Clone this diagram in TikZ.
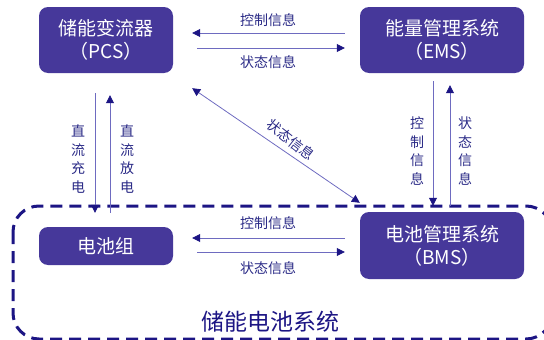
\documentclass[tikz,border=0pt]{standalone}
\usepackage{fontspec}
\setmainfont{Noto Sans CJK SC}
\usetikzlibrary{arrows.meta,calc}
\definecolor{boxfill}{HTML}{46389A}
\definecolor{navy}{HTML}{1C1584}
\definecolor{lineblue}{HTML}{6E6BC0}
\definecolor{txtblue}{HTML}{2A2A86}
\tikzset{
  box/.style={draw=none, fill=boxfill, rounded corners=9pt, text=white, font=\fontsize{19}{23}\selectfont, align=center, inner sep=0pt},
  arr/.style={draw=lineblue, line width=0.8pt, -{Triangle[length=8pt,width=8pt,color=navy]}},
  lbl/.style={text=txtblue, font=\fontsize{14}{18}\selectfont, inner sep=0pt},
  vlbl/.style={text=txtblue, font=\fontsize{14}{18.5}\selectfont, align=center, inner sep=0pt},
  frame/.style={draw=navy, line width=3pt, dash pattern=on 12pt off 7pt, rounded corners=26pt}
}
\begin{document}
\begin{tikzpicture}[x=1pt,y=-1pt]
\useasboundingbox (0,0) rectangle (544,340);
\clip (0,0) rectangle (544,340);
% system frame
\draw[frame] (13,206) rectangle (552,339);
\node[text=navy, font=\fontsize{23}{26}\selectfont, inner sep=0pt] (sys) at (270,322) {储能电池系统};
% boxes
\node[box, minimum width=134pt, minimum height=66pt] (pcs) at (106,40) {储能变流器\\（PCS）};
\node[box, minimum width=164pt, minimum height=66pt] (ems) at (442,40) {能量管理系统\\（EMS）};
\node[box, minimum width=134pt, minimum height=38pt] (bat) at (106,246) {电池组};
\node[box, minimum width=164pt, minimum height=67pt] (bms) at (442,245.5) {电池管理系统\\（BMS）};
% PCS <-> EMS
\draw[arr, shorten <=15pt, shorten >=19pt] ([yshift=7pt]ems.west) -- ([yshift=7pt]pcs.east);
\draw[arr, shorten <=24pt, shorten >=15pt] ([yshift=-8pt]pcs.east) -- ([yshift=-8pt]ems.west);
\node[lbl] (l1) at (268,20) {控制信息};
\node[lbl] (l2) at (268,62) {状态信息};
% BAT <-> BMS
\draw[arr, shorten <=15pt, shorten >=19pt] ([yshift=7.5pt]bms.west) -- ([yshift=8pt]bat.east);
\draw[arr, shorten <=24pt, shorten >=15pt] ([yshift=-6pt]bat.east) -- ([yshift=-6.5pt]bms.west);
\node[lbl] (l3) at (268,223) {控制信息};
\node[lbl] (l4) at (268,268) {状态信息};
% PCS <-> BAT
\draw[arr, shorten <=20pt, shorten >=14pt] ([xshift=-11pt]pcs.south) -- ([xshift=-11pt]bat.north);
\draw[arr, shorten <=14pt, shorten >=22pt] ([xshift=4pt]bat.north) -- ([xshift=4pt]pcs.south);
\node[vlbl] (l5) at (78,159) {直\\流\\充\\电};
\node[vlbl] (l6) at (127,159) {直\\流\\放\\电};
% EMS <-> BMS
\draw[arr, shorten <=8pt, shorten >=6pt] ([xshift=-9pt]ems.south) -- ([xshift=-9pt]bms.north);
\draw[arr, shorten <=6pt, shorten >=12pt] ([xshift=8pt]bms.north) -- ([xshift=8pt]ems.south);
\node[vlbl] (l7) at (417,151) {控\\制\\信\\息};
\node[vlbl] (l8) at (465,151) {状\\态\\信\\息};
% diagonal
\draw[draw=lineblue, line width=0.8pt, {Triangle[length=8pt,width=8pt,color=navy]}-{Triangle[length=8pt,width=8pt,color=navy]}] ($(pcs.south east)+(19,15)$) -- ($(bms.north west)+(0,-9)$);
\node[lbl, rotate=-38] (l9) at (291,140) {状态信息};
\end{tikzpicture}
\end{document}
